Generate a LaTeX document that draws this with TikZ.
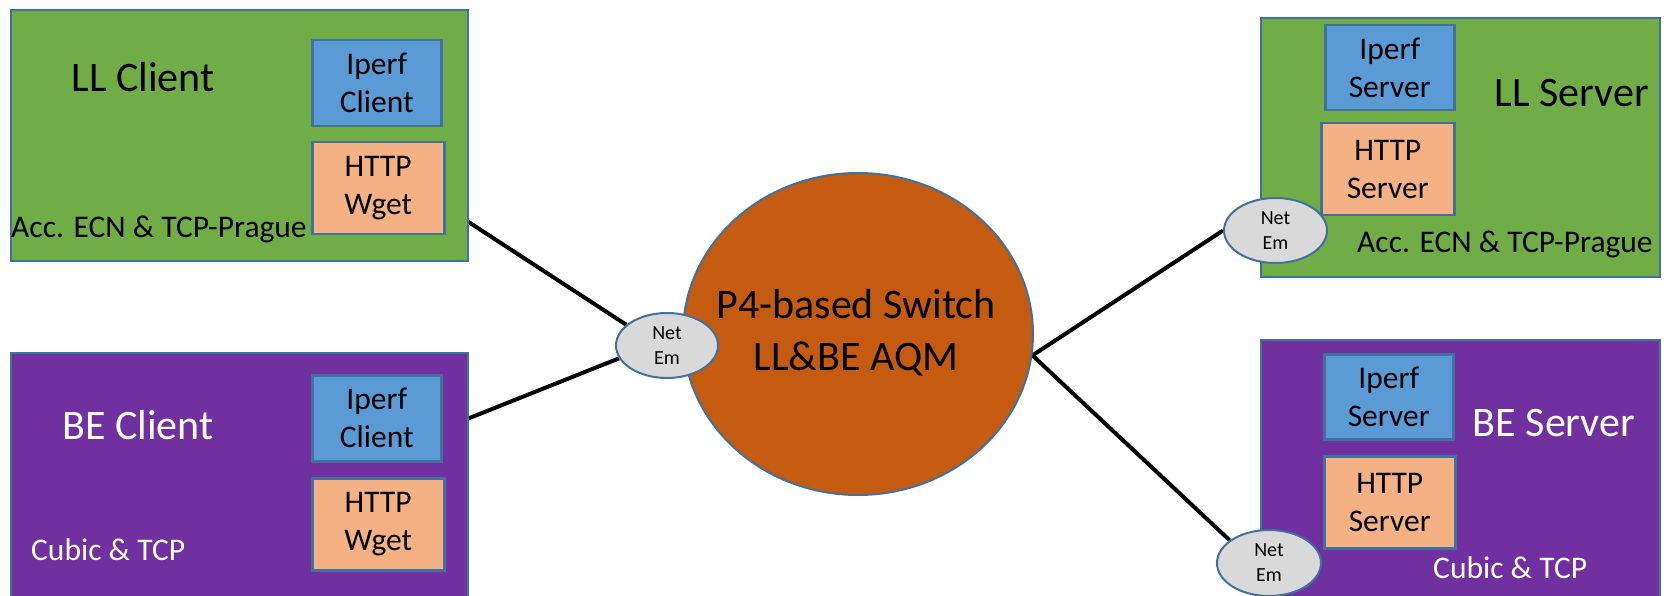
\documentclass[tikz,border=0pt]{standalone}
\usepackage{fontspec}
\setmainfont{Carlito}
\usetikzlibrary{shapes.geometric}
\definecolor{llgreen}{HTML}{70AD47}
\definecolor{bepurple}{HTML}{7030A0}
\definecolor{iperfblue}{HTML}{5B9BD5}
\definecolor{httporange}{HTML}{F4B183}
\definecolor{switchorange}{HTML}{C55A11}
\definecolor{netemgray}{HTML}{D9D9D9}
\definecolor{edgeblue}{HTML}{41719C}
\pgfdeclarelayer{background}
\pgfsetlayers{background,main}
\begin{document}
\begin{tikzpicture}[x=1pt,y=-1pt,
  hostbox/.style={draw=edgeblue, line width=2pt, inner sep=0pt, anchor=north west},
  appbox/.style={draw=edgeblue, line width=2.5pt, inner sep=0pt, anchor=north west, align=center, font=\fontsize{31.5}{38}\selectfont},
  bigtext/.style={inner sep=0pt, anchor=base, font=\fontsize{42}{50}\selectfont},
  midtext/.style={inner sep=0pt, anchor=base west, font=\fontsize{31.5}{38}\selectfont},
  netem/.style={ellipse, draw=edgeblue, line width=2pt, fill=netemgray, inner sep=0pt, align=center, font=\fontsize{20}{25}\selectfont},
  link/.style={line width=4pt, black}
]
\useasboundingbox (0,0) rectangle (1671,596);
% hosts
\node[hostbox, fill=llgreen, minimum width=457pt, minimum height=251pt] (llc) at (10,9) {};
\node[hostbox, fill=bepurple, minimum width=457pt, minimum height=250pt] (bec) at (10,352) {};
\node[hostbox, fill=llgreen, minimum width=399pt, minimum height=259pt] (lls) at (1260,17) {};
\node[hostbox, fill=bepurple, minimum width=399pt, minimum height=263pt] (bes) at (1260,339) {};
% app boxes
\node[appbox, fill=iperfblue, minimum width=129pt, minimum height=86pt] (llcip) at (311,39) {Iperf\\Client};
\node[appbox, fill=httporange, minimum width=132pt, minimum height=92pt] (llcht) at (311,141) {HTTP\\Wget};
\node[appbox, fill=iperfblue, minimum width=129pt, minimum height=86pt] (becip) at (311,374) {Iperf\\Client};
\node[appbox, fill=httporange, minimum width=132pt, minimum height=92pt] (becht) at (311,477) {HTTP\\Wget};
\node[appbox, fill=iperfblue, minimum width=129pt, minimum height=85pt] (llsip) at (1324,24) {Iperf\\Server};
\node[appbox, fill=httporange, minimum width=133pt, minimum height=92pt] (llsht) at (1320,122) {HTTP\\Server};
\node[appbox, fill=iperfblue, minimum width=129pt, minimum height=85pt] (besip) at (1323,353) {Iperf\\Server};
\node[appbox, fill=httporange, minimum width=131pt, minimum height=92pt] (besht) at (1323,455) {HTTP\\Server};
% host labels
\node[bigtext] (llclab) at (143,92) {LL Client};
\node[bigtext, text=white] (beclab) at (138,439) {BE Client};
\node[bigtext] (llslab) at (1572,107) {LL Server};
\node[bigtext, text=white] (beslab) at (1554,436) {BE Server};
\node[midtext] (llcproto) at (11,237) {Acc. ECN \& TCP-Prague};
\node[midtext] (llsproto) at (1357,253) {Acc. ECN \& TCP-Prague};
\node[midtext, text=white] (becproto) at (31,560) {Cubic \& TCP};
\node[midtext, text=white] (besproto) at (1433,578) {Cubic \& TCP};
% switch
\node[ellipse, draw=edgeblue, line width=2pt, fill=switchorange, minimum width=350pt, minimum height=322pt, inner sep=0pt] (sw) at (858,334) {};
\node[inner sep=0pt, anchor=base, font=\fontsize{42}{52}\selectfont] (swl1) at (856,318) {P4-based Switch};
\node[inner sep=0pt, anchor=base, font=\fontsize{42}{52}\selectfont] (swl2) at (856,370) {LL\&BE AQM};
% netem
\node[netem, minimum width=102pt, minimum height=65pt] (netL) at (667,345.5) {Net\\Em};
\node[netem, minimum width=103pt, minimum height=65pt] (netLS) at (1275.5,230.5) {Net\\Em};
\node[netem, minimum width=104pt, minimum height=66pt] (netBS) at (1269,563) {Net\\Em};
% connectors
\coordinate (llcport) at (467,221);
\coordinate (becport) at (467,419);
\begin{pgfonlayer}{background}
\draw[link] (llcport) -- (netL.153);
\draw[link] (becport) -- (netL.195);
\draw[link, miter limit=20] (netLS.west) -- (sw.-7) -- (netBS.150);
\end{pgfonlayer}
\end{tikzpicture}
\end{document}
